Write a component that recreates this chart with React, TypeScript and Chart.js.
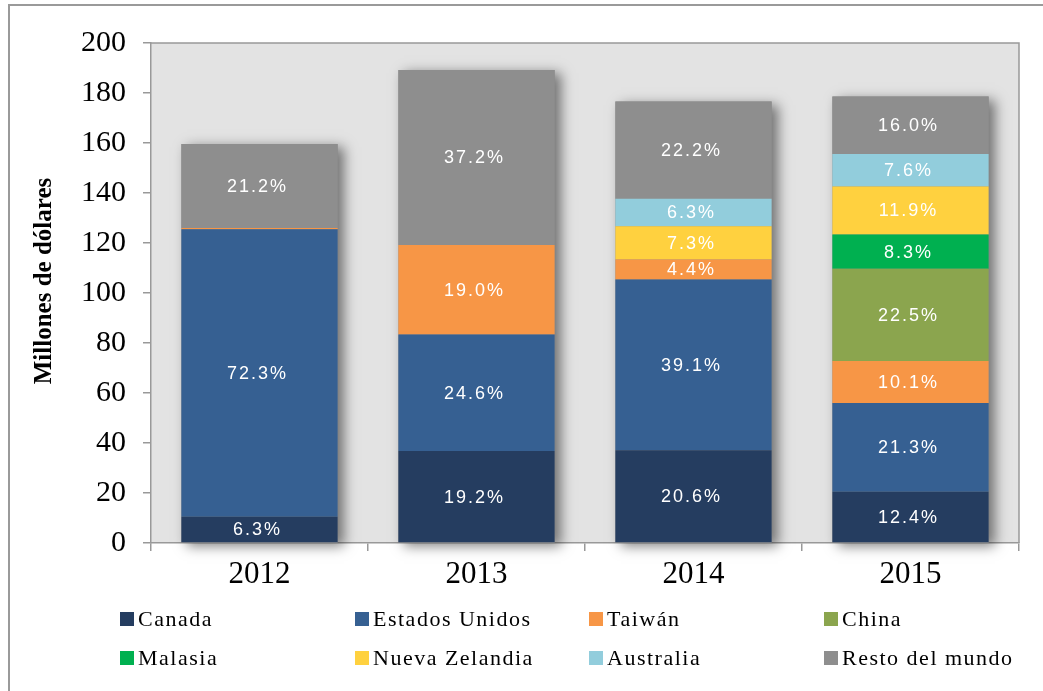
import { useEffect, useRef } from 'react';
import { Chart, registerables } from 'chart.js';
Chart.register(...registerables);

const years = ['2012', '2013', '2014', '2015'];
const yTicks = [0, 20, 40, 60, 80, 100, 120, 140, 160, 180, 200];

const canada = [10.5, 36.8, 37.1, 20.5];
const estadosUnidos = [115.0, 46.6, 68.3, 35.5];
const taiwan = [0.5, 35.8, 8.0, 16.8];
const china = [null, null, null, 36.9];
const malasia = [null, null, null, 13.7];
const nuevaZelandia = [null, null, 13.3, 19.2];
const australia = [null, null, 11.0, 13.0];
const restoMundo = [33.6, 70.0, 38.9, 23.0];

const canadaPct = ['6.3%', '19.2%', '20.6%', '12.4%'];
const estadosUnidosPct = ['72.3%', '24.6%', '39.1%', '21.3%'];
const taiwanPct = [null, '19.0%', '4.4%', '10.1%'];
const chinaPct = [null, null, null, '22.5%'];
const malasiaPct = [null, null, null, '8.3%'];
const nuevaZelandiaPct = [null, null, '7.3%', '11.9%'];
const australiaPct = [null, null, '6.3%', '7.6%'];
const restoMundoPct = ['21.2%', '37.2%', '22.2%', '16.0%'];

const seriesNames = ['Canada', 'Estados Unidos', 'Taiwán', 'China', 'Malasia', 'Nueva Zelandia', 'Australia', 'Resto del mundo'];
const seriesColors = ['#253D60', '#366092', '#F79646', '#8BA54E', '#00B050', '#FFD13F', '#92CDDC', '#8E8E8E'];
const seriesValues = [canada, estadosUnidos, taiwan, china, malasia, nuevaZelandia, australia, restoMundo];
const seriesPct = [canadaPct, estadosUnidosPct, taiwanPct, chinaPct, malasiaPct, nuevaZelandiaPct, australiaPct, restoMundoPct];

const yTitle = 'Millones de dólares';

export default function App() {
  const ref = useRef<HTMLCanvasElement | null>(null);

  useEffect(() => {
    if (!ref.current) return;

    const bgPlugin = {
      id: 'bg',
      beforeDraw(chart: any) {
        const { ctx, chartArea: a } = chart;
        ctx.save();
        ctx.fillStyle = '#ffffff';
        ctx.fillRect(0, 0, chart.width, chart.height);
        ctx.strokeStyle = '#9a9a9a';
        ctx.lineWidth = 2;
        ctx.beginPath();
        ctx.moveTo(9, chart.height + 2);
        ctx.lineTo(9, 5);
        ctx.lineTo(chart.width + 2, 5);
        ctx.stroke();
        ctx.fillStyle = '#e3e3e3';
        ctx.fillRect(a.left, a.top, a.right - a.left, a.bottom - a.top);
        ctx.strokeStyle = '#999999';
        ctx.lineWidth = 1.5;
        ctx.beginPath();
        ctx.moveTo(a.left, a.top);
        ctx.lineTo(a.right, a.top);
        ctx.lineTo(a.right, a.bottom);
        ctx.stroke();
        ctx.restore();
      },
    };

    const shadowPlugin = {
      id: 'stackShadow',
      beforeDatasetsDraw(chart: any) {
        const { ctx } = chart;
        const yScale = chart.scales.y;
        const meta0 = chart.getDatasetMeta(0);
        ctx.save();
        ctx.shadowColor = 'rgba(0,0,0,0.5)';
        ctx.shadowBlur = 12;
        ctx.shadowOffsetX = 6;
        ctx.shadowOffsetY = 3;
        ctx.fillStyle = '#8e8e8e';
        years.forEach((_, j) => {
          let total = 0;
          seriesValues.forEach((s) => { total += (s[j] as number) || 0; });
          const el = meta0.data[j];
          const top = yScale.getPixelForValue(total);
          const base = yScale.getPixelForValue(0);
          ctx.fillRect(el.x - el.width / 2, top, el.width, base - top);
        });
        ctx.restore();
      },
    };

    const labelPlugin = {
      id: 'segLabels',
      afterDatasetsDraw(chart: any) {
        const { ctx } = chart;
        ctx.save();
        ctx.fillStyle = '#ffffff';
        ctx.font = '18px "Liberation Sans"';
        (ctx as any).letterSpacing = '2px';
        ctx.textAlign = 'center';
        ctx.textBaseline = 'middle';
        seriesPct.forEach((pcts, i) => {
          const meta = chart.getDatasetMeta(i);
          pcts.forEach((t, j) => {
            if (!t) return;
            const el = meta.data[j];
            if (!el) return;
            const cy = (el.y + el.base) / 2;
            ctx.fillText(t, el.x - 2, cy + 1);
          });
        });
        ctx.restore();
      },
    };

    const legendPlugin = {
      id: 'customLegend',
      afterDraw(chart: any) {
        const { ctx } = chart;
        const colX = [120, 355, 589, 824];
        const rowY = [619, 658];
        ctx.save();
        ctx.font = '22px "Liberation Serif"';
        (ctx as any).letterSpacing = '1.5px';
        ctx.textAlign = 'left';
        ctx.textBaseline = 'middle';
        seriesNames.forEach((name, i) => {
          const x = colX[i % 4];
          const y = rowY[Math.floor(i / 4)];
          ctx.fillStyle = seriesColors[i];
          ctx.fillRect(x, y - 7, 14, 14);
          ctx.fillStyle = '#000000';
          ctx.fillText(name, x + 18, y + 1);
        });
        (ctx as any).letterSpacing = '0px';
        ctx.translate(45, 281);
        ctx.rotate(-Math.PI / 2);
        ctx.textAlign = 'center';
        ctx.font = 'bold 25px "Liberation Serif"';
        ctx.fillText(yTitle, 0, 0);
        ctx.restore();
      },
    };

    const chart = new Chart(ref.current, {
      type: 'bar',
      data: {
        labels: years,
        datasets: seriesNames.map((name, i) => ({
          label: name,
          data: seriesValues[i],
          backgroundColor: seriesColors[i],
          borderWidth: 0,
          barPercentage: 0.72,
          categoryPercentage: 1.0,
        })),
      },
      options: {
        responsive: false,
        animation: false,
        devicePixelRatio: 1,
        layout: { padding: { left: 0, right: 24, top: 43, bottom: 0 } },
        plugins: {
          legend: { display: false },
          tooltip: { enabled: false },
          title: { display: false },
        },
        scales: {
          x: {
            stacked: true,
            grid: { offset: true, drawOnChartArea: false, drawTicks: true, tickLength: 8, color: '#999999', lineWidth: 1.5 },
            border: { display: true, color: '#999999', width: 1.5 },
            ticks: { color: '#000000', font: { family: 'Liberation Serif', size: 31 }, padding: 5 },
            afterFit: (s: any) => { s.height = 148; },
          },
          y: {
            stacked: true,
            min: 0,
            max: 200,
            afterBuildTicks: (s: any) => { s.ticks = yTicks.map((v) => ({ value: v })); },
            ticks: { color: '#000000', font: { family: 'Liberation Serif', size: 30 }, padding: 17 },
            grid: { drawOnChartArea: false, drawTicks: true, tickLength: 8, color: '#999999', lineWidth: 1.5 },
            border: { display: true, color: '#999999', width: 1.5 },
            afterFit: (s: any) => { s.width = 151; },
          },
        },
      },
      plugins: [bgPlugin, shadowPlugin, labelPlugin, legendPlugin],
    });

    return () => chart.destroy();
  }, []);

  return (
    <div style={{ position: 'fixed', left: 0, top: 0, width: 1043, height: 691, background: '#fff' }}>
      <canvas ref={ref} width={1043} height={691} style={{ display: 'block' }} />
    </div>
  );
}
